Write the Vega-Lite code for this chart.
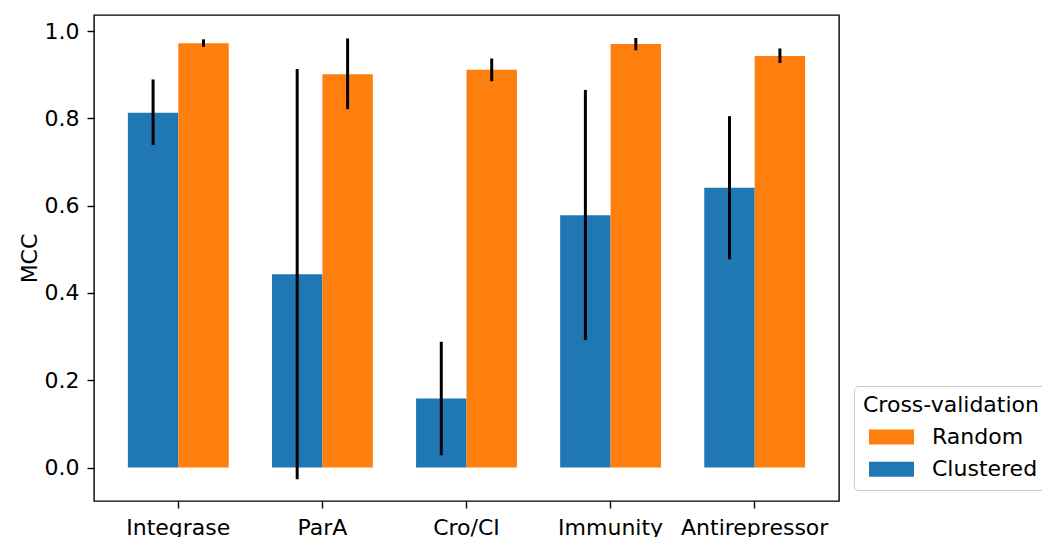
{
  "$schema": "https://vega.github.io/schema/vega-lite/v6.json",
  "autosize": {"type": "none"},
  "width": 745,
  "height": 486,
  "padding": {"left": 94, "top": 15, "right": 203, "bottom": 36},
  "background": "white",
  "config": {
    "view": {"stroke": "black", "strokeWidth": 1.4},
    "font": "DejaVu Sans",
    "axis": {
      "labelFont": "DejaVu Sans",
      "labelFontSize": 22,
      "labelColor": "black",
      "titleFont": "DejaVu Sans",
      "titleFontSize": 22,
      "titleFontWeight": "normal",
      "titleColor": "black",
      "tickColor": "black",
      "tickWidth": 1.4,
      "tickSize": 7,
      "domain": false,
      "grid": false
    },
    "legend": {
      "labelFont": "DejaVu Sans",
      "titleFont": "DejaVu Sans"
    }
  },
  "data": {
    "values": [
      {"category": "Integrase", "group": "Clustered", "mcc": 0.813, "lo": 0.739, "hi": 0.889},
      {"category": "Integrase", "group": "Random", "mcc": 0.972, "lo": 0.964, "hi": 0.981},
      {"category": "ParA", "group": "Clustered", "mcc": 0.443, "lo": -0.027, "hi": 0.913},
      {"category": "ParA", "group": "Random", "mcc": 0.901, "lo": 0.821, "hi": 0.983},
      {"category": "Cro/CI", "group": "Clustered", "mcc": 0.158, "lo": 0.028, "hi": 0.288},
      {"category": "Cro/CI", "group": "Random", "mcc": 0.911, "lo": 0.885, "hi": 0.937},
      {"category": "Immunity", "group": "Clustered", "mcc": 0.578, "lo": 0.292, "hi": 0.865},
      {"category": "Immunity", "group": "Random", "mcc": 0.970, "lo": 0.956, "hi": 0.984},
      {"category": "Antirepressor", "group": "Clustered", "mcc": 0.641, "lo": 0.477, "hi": 0.805},
      {"category": "Antirepressor", "group": "Random", "mcc": 0.943, "lo": 0.927, "hi": 0.960}
    ]
  },
  "encoding": {
    "x": {
      "field": "category",
      "type": "nominal",
      "sort": ["Integrase", "ParA", "Cro/CI", "Immunity", "Antirepressor"],
      "scale": {"paddingInner": 0.3, "paddingOuter": 0.235},
      "axis": {"title": null, "labelAngle": 0, "labelPadding": 9}
    },
    "xOffset": {
      "field": "group",
      "type": "nominal",
      "scale": {"domain": ["Clustered", "Random"], "paddingInner": 0, "paddingOuter": 0}
    }
  },
  "layer": [
    {
      "mark": {"type": "bar"},
      "encoding": {
        "y": {
          "field": "mcc",
          "type": "quantitative",
          "scale": {"domain": [-0.0767, 1.0367], "nice": false, "zero": false},
          "axis": {"title": "MCC", "values": [0, 0.2, 0.4, 0.6, 0.8, 1.0], "format": ".1f", "labelPadding": 8, "titlePadding": 3}
        },
        "y2": {"datum": 0},
        "color": {
          "field": "group",
          "type": "nominal",
          "scale": {"domain": ["Random", "Clustered"], "range": ["#ff7f0e", "#1f77b4"]},
          "legend": {
            "title": "Cross-validation",
            "orient": "none",
            "legendX": 760,
            "legendY": 371,
            "titleFontSize": 22,
            "titleFontWeight": "normal",
            "titleColor": "black",
            "titlePadding": 9,
            "labelFontSize": 22,
            "labelColor": "black",
            "symbolType": "M-2.25,-0.75 h4.5 v1.5 h-4.5 Z",
            "symbolSize": 400,
            "symbolStrokeWidth": 0,
            "symbolOpacity": 1,
            "symbolOffset": 17.5,
            "labelOffset": 29.5,
            "rowPadding": 10.3,
            "padding": 9,
            "fillColor": "white",
            "strokeColor": "#cccccc",
            "cornerRadius": 4
          }
        }
      }
    },
    {
      "mark": {"type": "rule", "color": "black", "strokeWidth": 3},
      "encoding": {
        "y": {"field": "lo", "type": "quantitative"},
        "y2": {"field": "hi"}
      }
    }
  ]
}
